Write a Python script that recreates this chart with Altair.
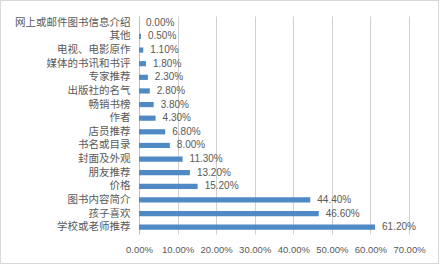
import altair as alt
import pandas as pd

categories = ["网上或邮件图书信息介绍", "其他", "电视、电影原作", "媒体的书讯和书评", "专家推荐",
              "出版社的名气", "畅销书榜", "作者", "店员推荐", "书名或目录", "封面及外观",
              "朋友推荐", "价格", "图书内容简介", "孩子喜欢", "学校或老师推荐"]
values = [0.0, 0.005, 0.011, 0.018, 0.023, 0.028, 0.038, 0.043, 0.068, 0.080, 0.113,
          0.132, 0.152, 0.444, 0.466, 0.612]
ticks = [0, 0.1, 0.2, 0.3, 0.4, 0.5, 0.6, 0.7]

df = pd.DataFrame({"cat": categories, "val": values})

W, H = 270, 218
FONT = "Noto Sans CJK SC"
GRAY = "#595959"

y = alt.Y("cat:N", sort=categories, title=None,
          scale=alt.Scale(paddingInner=0.62, paddingOuter=0.31),
          axis=alt.Axis(labelFont=FONT, labelFontSize=10.5, labelColor=GRAY, labelPadding=9,
                        ticks=False, domainColor="#bfbfbf", domainWidth=1, grid=False,
                        labelLimit=200, labelOverlap=False))
x = alt.X("val:Q", title=None,
          scale=alt.Scale(domain=[0, 0.7], nice=False),
          axis=alt.Axis(values=ticks, format=".2%", labelFont="Liberation Sans", labelFontSize=9.5,
                        labelColor=GRAY, labelPadding=10, ticks=False, domain=False,
                        labelOverlap=False, labelFlush=False,
                        grid=True, gridColor="#d0d0d0", gridWidth=1))

bars = alt.Chart(df).mark_bar(color="#4F8AC4").encode(x=x, y=y)
labels = alt.Chart(df).mark_text(align="left", dx=7, font="Liberation Sans", fontSize=10,
                                 color=GRAY).encode(
    x=x, y=y, text=alt.Text("val:Q", format=".2%"))
border = alt.Chart(df).mark_rect(fill=None, stroke="#d9d9d9", strokeWidth=1).encode(
    x=alt.value(-138.5), x2=alt.value(W + 29.5), y=alt.value(-15.5), y2=alt.value(H + 29.5))

chart = alt.layer(border, bars, labels).properties(
    width=W, height=H,
    padding={"left": 139, "top": 16, "right": 31, "bottom": 30},
    autosize=alt.AutoSizeParams(type="none"),
    background="white",
).configure_view(stroke=None)

chart.save("out.html", embed_options={"renderer": "svg", "actions": False})
